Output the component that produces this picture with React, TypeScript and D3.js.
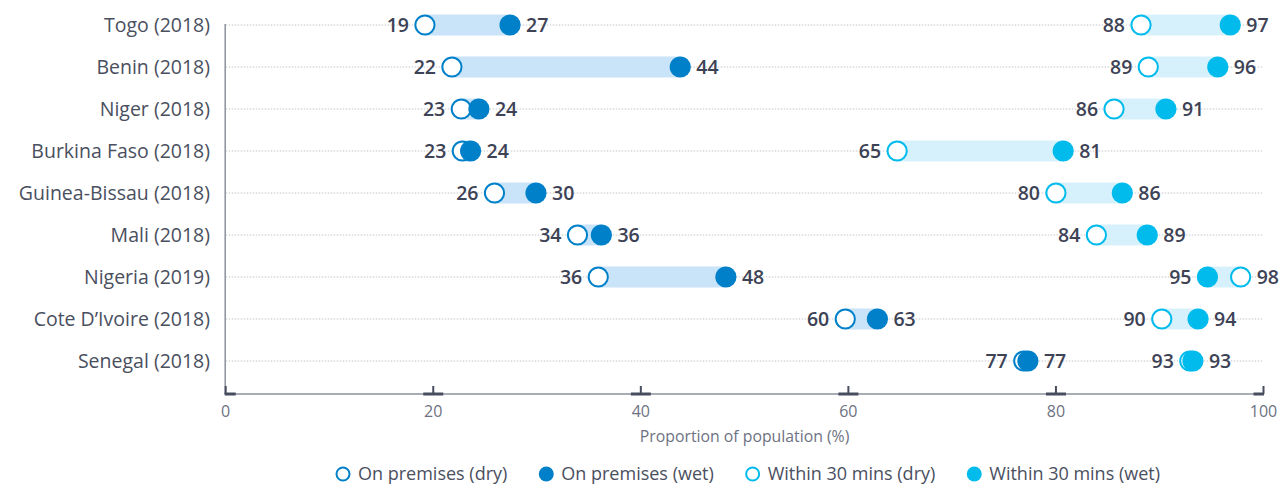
import React, { useEffect, useRef } from "react";
import * as d3 from "d3";

const countries = [
  "Togo (2018)",
  "Benin (2018)",
  "Niger (2018)",
  "Burkina Faso (2018)",
  "Guinea-Bissau (2018)",
  "Mali (2018)",
  "Nigeria (2019)",
  "Cote D’Ivoire (2018)",
  "Senegal (2018)",
];
const premisesDry = [19.2, 21.8, 22.7, 22.8, 25.9, 33.9, 35.9, 59.7, 76.9];
const premisesWet = [27.4, 43.8, 24.4, 23.6, 29.9, 36.2, 48.2, 62.8, 77.3];
const within30Dry = [88.2, 88.9, 85.6, 64.7, 80.0, 83.9, 97.8, 90.2, 92.9];
const within30Wet = [96.8, 95.6, 90.6, 80.7, 86.4, 88.8, 94.6, 93.7, 93.2];
const xTicks = [0, 20, 40, 60, 80, 100];
const legendLabels = [
  "On premises (dry)",
  "On premises (wet)",
  "Within 30 mins (dry)",
  "Within 30 mins (wet)",
];

const W = 1282;
const H = 485;
const DARK = "#0080c9";
const LIGHT = "#00bbec";
const DARK_BAR = "#c9e4f9";
const LIGHT_BAR = "#d7f1fc";
const FONT = "'Open Sans', 'Noto Sans', sans-serif";

export default function App() {
  const ref = useRef<SVGSVGElement | null>(null);

  useEffect(() => {
    const svg = d3.select(ref.current);
    svg.selectAll("*").remove();

    const left = 225.7;
    const right = 1263.5;
    const axisY = 394;
    const x = d3.scaleLinear().domain([0, 100]).range([left, right]);
    const y = d3.scaleBand<string>().domain(countries).range([4, 382]).padding(0);
    const cy = (c: string) => (y(c) as number) + y.bandwidth() / 2;
    const r = 9.6;

    // gridlines
    svg
      .append("g")
      .selectAll("line")
      .data(countries)
      .join("line")
      .attr("x1", left)
      .attr("x2", right)
      .attr("y1", (d) => cy(d))
      .attr("y2", (d) => cy(d))
      .attr("stroke", "#c4c6cc")
      .attr("stroke-width", 1)
      .attr("stroke-dasharray", "1.5,1.5");

    // y axis line
    svg
      .append("line")
      .attr("x1", left - 0.5)
      .attr("x2", left - 0.5)
      .attr("y1", cy(countries[0]) - 1)
      .attr("y2", axisY)
      .attr("stroke", "#8c909b")
      .attr("stroke-width", 1.5);

    // category labels
    svg
      .append("g")
      .selectAll("text")
      .data(countries)
      .join("text")
      .attr("x", 210)
      .attr("y", (d) => cy(d))
      .attr("dy", "0.35em")
      .attr("text-anchor", "end")
      .attr("font-family", FONT)
      .attr("font-size", 19.5)
      .attr("fill", "#4a4f60")
      .text((d) => d);

    // x axis
    svg
      .append("line")
      .attr("x1", left - 1)
      .attr("x2", right)
      .attr("y1", axisY)
      .attr("y2", axisY)
      .attr("stroke", "#8c909b")
      .attr("stroke-width", 1.5);

    const tg = svg.append("g");
    xTicks.forEach((t) => {
      const px = x(t);
      const x1 = Math.max(left - 1, px - 10);
      const x2 = Math.min(right + 0.5, px + 10);
      tg.append("line")
        .attr("x1", x1)
        .attr("x2", x2)
        .attr("y1", axisY)
        .attr("y2", axisY)
        .attr("stroke", "#474c5e")
        .attr("stroke-width", 3);
      tg.append("line")
        .attr("x1", px)
        .attr("x2", px)
        .attr("y1", axisY - 8)
        .attr("y2", axisY)
        .attr("stroke", "#474c5e")
        .attr("stroke-width", 2);
      tg.append("text")
        .attr("x", px)
        .attr("y", axisY + 23)
        .attr("text-anchor", "middle")
        .attr("font-family", FONT)
        .attr("font-size", 16)
        .attr("fill", "#6d7282")
        .text(String(t));
    });

    svg
      .append("text")
      .attr("x", x(50))
      .attr("y", axisY + 48)
      .attr("text-anchor", "middle")
      .attr("font-family", FONT)
      .attr("font-size", 15.8)
      .attr("fill", "#6d7282")
      .text("Proportion of population (%)");

    // dumbbells
    const groups = [
      { dry: premisesDry, wet: premisesWet, color: DARK, bar: DARK_BAR },
      { dry: within30Dry, wet: within30Wet, color: LIGHT, bar: LIGHT_BAR },
    ];
    groups.forEach((g) => {
      const gg = svg.append("g");
      countries.forEach((c, i) => {
        const a = g.dry[i];
        const b = g.wet[i];
        const yc = cy(c);
        gg.append("rect")
          .attr("x", x(Math.min(a, b)))
          .attr("y", yc - 10.5)
          .attr("width", Math.abs(x(b) - x(a)))
          .attr("height", 21)
          .attr("fill", g.bar);
        gg.append("circle")
          .attr("cx", x(a))
          .attr("cy", yc)
          .attr("r", r)
          .attr("fill", "#fff")
          .attr("stroke", g.color)
          .attr("stroke-width", 2);
        gg.append("circle")
          .attr("cx", x(b))
          .attr("cy", yc)
          .attr("r", r + 1)
          .attr("fill", g.color);
        const lo = Math.min(a, b);
        const hi = Math.max(a, b);
        gg.append("text")
          .attr("x", x(lo) - 16)
          .attr("y", yc)
          .attr("dy", "0.36em")
          .attr("text-anchor", "end")
          .attr("font-family", FONT)
          .attr("font-weight", 600)
          .attr("font-size", 19.5)
          .attr("fill", "#3d4255")
          .text(String(Math.round(lo)));
        gg.append("text")
          .attr("x", x(hi) + 16)
          .attr("y", yc)
          .attr("dy", "0.36em")
          .attr("text-anchor", "start")
          .attr("font-family", FONT)
          .attr("font-weight", 600)
          .attr("font-size", 19.5)
          .attr("fill", "#3d4255")
          .text(String(Math.round(hi)));
      });
    });

    // legend
    const legY = 474;
    const lg = svg.append("g");
    const items = legendLabels.map((l, i) => ({
      label: l,
      color: i < 2 ? DARK : LIGHT,
      filled: i % 2 === 1,
    }));
    const widths: number[] = [];
    const nodes = items.map((it) => {
      const gi = lg.append("g");
      if (it.filled) {
        gi.append("circle").attr("cx", 7).attr("cy", 0).attr("r", 7.5).attr("fill", it.color);
      } else {
        gi.append("circle")
          .attr("cx", 7)
          .attr("cy", 0)
          .attr("r", 6.5)
          .attr("fill", "#fff")
          .attr("stroke", it.color)
          .attr("stroke-width", 2);
      }
      const t = gi
        .append("text")
        .attr("x", 22)
        .attr("y", 0)
        .attr("dy", "0.35em")
        .attr("font-family", FONT)
        .attr("font-size", 18)
        .attr("fill", "#4a4f60")
        .text(it.label);
      const tw = (t.node() as SVGTextElement).getComputedTextLength();
      widths.push(22 + tw);
      return gi;
    });
    const total = 1160 - 336;
    const gap = (total - widths.reduce((s, w) => s + w, 0)) / (widths.length - 1);
    let cur = 336;
    nodes.forEach((n, i) => {
      n.attr("transform", `translate(${cur},${legY})`);
      cur += widths[i] + gap;
    });
  }, []);

  return (
    <svg
      ref={ref}
      width={W}
      height={H}
      style={{ position: "absolute", left: 0, top: 0, background: "#fff" }}
    />
  );
}
